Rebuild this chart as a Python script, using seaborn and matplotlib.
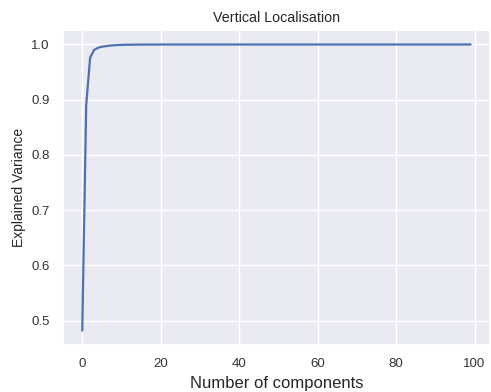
import matplotlib
matplotlib.use("Agg")
import matplotlib.pyplot as plt
import seaborn as sns
import pandas as pd

components = list(range(100))
explained_variance = [
    0.482, 0.890, 0.976, 0.990, 0.994, 0.996, 0.997, 0.998, 0.9985, 0.999,
    0.9993, 0.9995, 0.9996, 0.9997, 0.9998, 0.9998, 0.9999, 0.9999, 0.9999, 0.9999,
    1.0, 1.0, 1.0, 1.0, 1.0, 1.0, 1.0, 1.0, 1.0, 1.0,
    1.0, 1.0, 1.0, 1.0, 1.0, 1.0, 1.0, 1.0, 1.0, 1.0,
    1.0, 1.0, 1.0, 1.0, 1.0, 1.0, 1.0, 1.0, 1.0, 1.0,
    1.0, 1.0, 1.0, 1.0, 1.0, 1.0, 1.0, 1.0, 1.0, 1.0,
    1.0, 1.0, 1.0, 1.0, 1.0, 1.0, 1.0, 1.0, 1.0, 1.0,
    1.0, 1.0, 1.0, 1.0, 1.0, 1.0, 1.0, 1.0, 1.0, 1.0,
    1.0, 1.0, 1.0, 1.0, 1.0, 1.0, 1.0, 1.0, 1.0, 1.0,
    1.0, 1.0, 1.0, 1.0, 1.0, 1.0, 1.0, 1.0, 1.0, 1.0,
]
title = "Vertical Localisation"
xlabel = "Number of components"
ylabel = "Explained Variance"

sns.set_theme(style="darkgrid")
plt.rcParams["font.family"] = ["Liberation Sans", "DejaVu Sans"]

df = pd.DataFrame({"n": components, "v": explained_variance})

fig = plt.figure(figsize=(4.91, 3.92), dpi=100)
ax = fig.add_axes([0.128, 0.12, 0.870, 0.803])
sns.lineplot(data=df, x="n", y="v", ax=ax, color="#4c72b0", linewidth=1.6)
ax.set_title(title, fontsize=10.3)
ax.set_xlabel(xlabel, fontsize=12)
ax.set_ylabel(ylabel, fontsize=10)
ax.tick_params(labelsize=9.5, colors="#333333")
ax.set_xticks([0, 20, 40, 60, 80, 100])
ax.set_yticks([0.5, 0.6, 0.7, 0.8, 0.9, 1.0])
fig.savefig("out.png", dpi=100)
